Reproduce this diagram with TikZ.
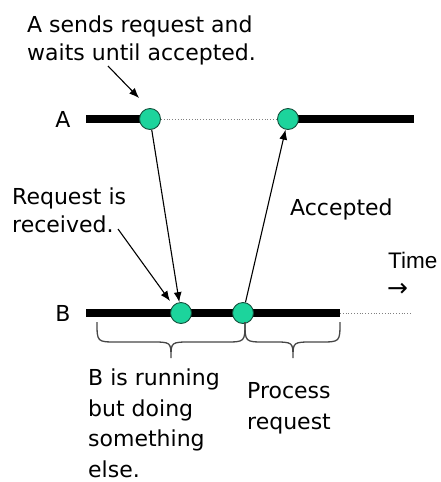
\documentclass[tikz,border=0pt]{standalone}
\usepackage{fontspec}
\setmainfont{DejaVu Sans}
\newfontfamily\timefont{Liberation Sans}
\usetikzlibrary{arrows.meta,backgrounds}

\definecolor{eventfill}{RGB}{28,212,156}
\definecolor{eventdraw}{RGB}{20,80,60}
\definecolor{bracegray}{RGB}{70,70,70}

\tikzset{
  event/.style={circle, fill=eventfill, draw=eventdraw, line width=0.9pt,
                minimum size=21pt, inner sep=0pt},
  timeline/.style={line width=8pt},
  idleline/.style={gray, line width=0.8pt, dotted},
  msg/.style={line width=1.1pt, -{Latex[length=10pt,width=8pt]}},
  note/.style={font=\fontsize{22}{28}\selectfont, align=left, inner sep=0pt},
  lower/.style={font=\fontsize{22}{30}\selectfont, align=left, inner sep=0pt},
  tag/.style={font=\fontsize{22}{28}\selectfont, inner sep=0pt},
  bracket/.style={bracegray, line width=1.3pt},
}

\begin{document}
\begin{tikzpicture}[x=1pt,y=-1pt]
  \useasboundingbox (0,0) rectangle (440,482);

  % process labels
  \node[tag] (labA) at (63,119) {A};
  \node[tag] (labB) at (63,313) {B};

  % events on the two timelines
  \node[event] (a1) at (150,119) {};
  \node[event] (a2) at (288,119) {};
  \node[event] (b1) at (181,313) {};
  \node[event] (b2) at (243,313) {};

  \coordinate (aL) at (86,119);
  \coordinate (aR) at (414,119);
  \coordinate (bL) at (86,313);
  \coordinate (bR) at (340,313);
  \coordinate (bEnd) at (412,313);

  \begin{scope}[on background layer]
    \draw[timeline] (aL) -- (a1.center);
    \draw[idleline] (a1) -- (a2);
    \draw[timeline] (a2.center) -- (aR);
    \draw[timeline] (bL) -- (bR);
    \draw[idleline] (bR) -- (bEnd);
  \end{scope}

  % messages
  \draw[msg] (a1) -- (b1);
  \draw[msg] (b2) -- (a2);

  % annotations
  \node[note, anchor=north west] (send) at (27,16)
    {A sends request and\\waits until accepted.};
  \coordinate (sendFrom) at (108,66);
  \coordinate (sendTo) at (139,98);
  \draw[msg] (sendFrom) -- (sendTo);

  \node[note, anchor=north west] (recv) at (12,188)
    {Request is\\received.};
  \coordinate (recvFrom) at (118,229);
  \coordinate (recvTo) at (170,301);
  \draw[msg] (recvFrom) -- (recvTo);

  \node[tag, anchor=base west] (acc) at (290,215) {Accepted};

  \node[font=\timefont\fontsize{22.5}{26}\selectfont, anchor=base west, inner sep=0pt]
    (time) at (388,268) {Time};
  \node[font=\fontsize{25}{26}\selectfont, anchor=west, inner sep=0pt]
    (timearrow) at (387,290) {→};

  % braces under timeline B
  \draw[bracket] (97,322) .. controls (97,342) .. (117,342) -- (151,342)
    .. controls (171,342) .. (171,358) .. controls (171,342) .. (191,342)
    -- (225,342) .. controls (245,342) .. (245,322);
  \draw[bracket] (245,322) .. controls (245,342) .. (265,342) -- (273,342)
    .. controls (293,342) .. (293,358) .. controls (293,342) .. (313,342)
    -- (320,342) .. controls (340,342) .. (340,322);

  \node[lower, anchor=north west] (idle) at (88,369)
    {B is running\\[0.5pt]but doing\\[0.5pt]something\\[0.5pt]else.};
  \node[lower, anchor=north west] (proc) at (247,382)
    {Process\\[1.5pt]request};
\end{tikzpicture}
\end{document}
